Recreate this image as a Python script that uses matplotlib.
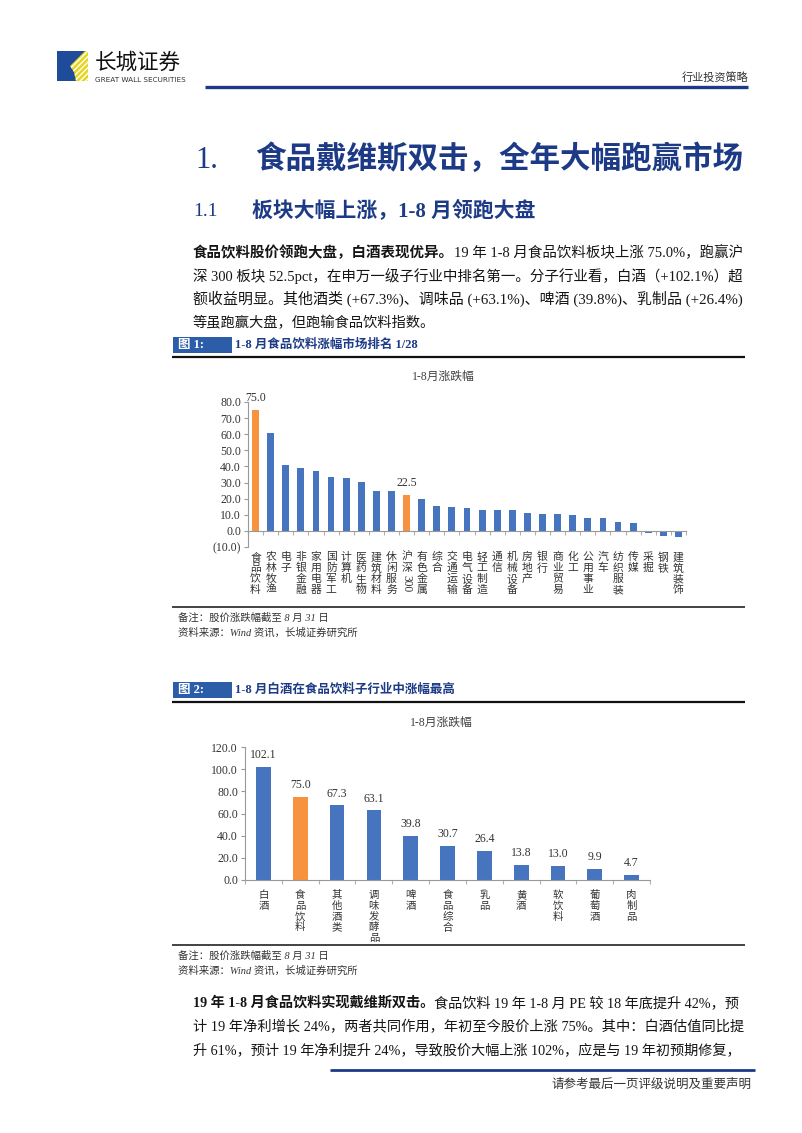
import matplotlib
matplotlib.use('Agg')
import matplotlib.pyplot as plt
from matplotlib.patches import Rectangle, Polygon
from matplotlib.transforms import blended_transform_factory
import numpy as np

plt.rcParams['font.family'] = ['Liberation Serif', 'Noto Sans CJK SC', 'DejaVu Sans']

# ---------------- data ----------------
c1_categories = ['食品饮料', '农林牧渔', '电子', '非银金融', '家用电器', '国防军工', '计算机',
                 '医药生物', '建筑材料', '休闲服务', '沪深300', '有色金属', '综合', '交通运输',
                 '电气设备', '轻工制造', '通信', '机械设备', '房地产', '银行', '商业贸易', '化工',
                 '公用事业', '汽车', '纺织服装', '传媒', '采掘', '钢铁', '建筑装饰']
c1_values = [75.0, 60.6, 40.6, 39.2, 36.9, 33.2, 32.6, 30.3, 25.0, 24.9, 22.5, 19.8, 15.6, 14.9,
             13.9, 13.1, 12.9, 12.8, 11.2, 10.3, 10.3, 10.0, 8.1, 7.9, 5.6, 4.8, -1.4, -3.1, -3.7]
c1_highlight = ['食品饮料', '沪深300']
c1_value_labels = {'食品饮料': '75.0', '沪深300': '22.5'}
c1_yticks = [-10, 0, 10, 20, 30, 40, 50, 60, 70, 80]
c1_yticklabels = ['(10.0)', '0.0', '10.0', '20.0', '30.0', '40.0', '50.0', '60.0', '70.0', '80.0']

c2_categories = ['白酒', '食品饮料', '其他酒类', '调味发酵品', '啤酒', '食品综合', '乳品',
                 '黄酒', '软饮料', '葡萄酒', '肉制品']
c2_values = [102.1, 75.0, 67.3, 63.1, 39.8, 30.7, 26.4, 13.8, 13.0, 9.9, 4.7]
c2_highlight = ['食品饮料']
c2_yticks = [0, 20, 40, 60, 80, 100, 120]
c2_yticklabels = ['0.0', '20.0', '40.0', '60.0', '80.0', '100.0', '120.0']

# ---------------- styles ----------------
BLUE = '#4674BF'
ORANGE = '#F7923F'
NAVY = '#1C3A86'
W, H = 802, 1133

fig = plt.figure(figsize=(W / 100, H / 100), dpi=100)
fig.patch.set_facecolor('white')
page = fig.add_axes([0, 0, 1, 1])
page.set_xlim(0, W)
page.set_ylim(H, 0)
page.axis('off')


def rect(l, t, r, b):
    return [l / W, 1 - b / H, (r - l) / W, (b - t) / H]


def hline(x0, x1, y, lw, color):
    page.plot([x0, x1], [y, y], lw=lw, color=color, solid_capstyle='butt')


justify = []


def rich_line(x, y, parts, fontsize, color='#151515', right=None):
    prev = None
    objs = []
    for text, bold in parts:
        kw = dict(fontsize=fontsize, fontweight='bold' if bold else 'normal', color=color,
                  va='bottom', ha='left')
        if prev is None:
            prev = page.text(x, y, text, **kw)
        else:
            prev = page.annotate(text, xy=(1, 0), xycoords=prev, **kw)
        objs.append(prev)
    if right is not None:
        justify.append((objs, x, right))
    return objs


# ---------------- page header ----------------
page.add_patch(Rectangle((57, 51), 31, 30, facecolor='#1E4C9A', edgecolor='none'))
page.add_patch(Polygon([(88, 51), (88, 81), (76, 81), (74, 72), (70, 66), (78, 58), (85, 51)],
                       closed=True, facecolor='#E6D41E', edgecolor='white', hatch='//////', lw=0))
page.text(95, 63, '长城证券', fontsize=15.5, family=['Noto Sans CJK SC'], color='#111',
          va='center', ha='left')
page.text(95, 80, 'GREAT WALL SECURITIES', fontsize=5.2, family=['DejaVu Sans'], color='#333',
          va='center', ha='left')
page.text(748, 77, '行业投资策略', fontsize=8, color='#333', va='center', ha='right',
          family=['Noto Sans CJK SC'])
hline(205, 748, 87, 2.4, NAVY)

# ---------------- titles ----------------
page.text(195, 160, '1.', fontsize=22, color=NAVY, va='center', ha='left')
page.text(255, 160, '食品戴维斯双击，全年大幅跑赢市场', fontsize=22, color=NAVY, va='center',
          ha='left', fontweight='bold')
page.text(193, 212, '1.1', fontsize=14, color=NAVY, va='center', ha='left')
page.text(252, 212, '板块大幅上涨，1-8 月领跑大盘', fontsize=15, color=NAVY, va='center',
          ha='left', fontweight='bold')

# ---------------- paragraph 1 ----------------
FS = 10.3
RIGHT = 740
rich_line(193, 260, [('食品饮料股价领跑大盘，白酒表现优异。', True),
                     ('19 年 1-8 月食品饮料板块上涨 75.0%，跑赢沪', False)], FS, right=RIGHT)
rich_line(193, 284, [('深 300 板块 52.5pct，在申万一级子行业中排名第一。分子行业看，白酒（+102.1%）超', False)], FS, right=RIGHT)
rich_line(193, 307, [('额收益明显。其他酒类 (+67.3%)、调味品 (+63.1%)、啤酒 (39.8%)、乳制品 (+26.4%)', False)], FS, right=RIGHT)
rich_line(193, 330, [('等虽跑赢大盘，但跑输食品饮料指数。', False)], FS)


def fig_header(y, num, text):
    page.add_patch(Rectangle((173, y - 8), 59, 16, facecolor='#2C5DA8', edgecolor='none'))
    page.text(178, y, '图 %d:' % num, fontsize=9, color='white', fontweight='bold',
              va='center', ha='left')
    page.text(235, y, text, fontsize=9, color=NAVY, fontweight='bold', va='center', ha='left')
    hline(172, 745, y + 12, 1.6, '#111')


def footnotes(y):
    hline(172, 745, y, 1.2, '#222')
    page.text(178, y + 11, '备注：股价涨跌幅截至 8 月 31 日', fontsize=7.5, color='#333',
              style='italic', va='center', ha='left')
    page.text(178, y + 26, '资料来源：Wind 资讯，长城证券研究所', fontsize=7.5, color='#333',
              style='italic', va='center', ha='left')


def draw_chart(ax, cats, vals, highlight, yticks, yticklabels, width, label_map,
               label_top, pitch, label_offset, cat_fs):
    x = np.arange(len(cats))
    colors = [ORANGE if c in highlight else BLUE for c in cats]
    ax.bar(x, vals, width=width, color=colors, zorder=2)
    ax.set_xlim(-0.5, len(cats) - 0.5)
    ax.set_ylim(yticks[0], yticks[-1])
    ax.set_yticks(yticks)
    ax.set_yticklabels(yticklabels, fontsize=8.5, color='#333')
    ax.set_xticks(np.arange(len(cats) + 1) - 0.5)
    ax.tick_params(axis='x', length=3, color='#B0B0B0', labelbottom=False, width=0.8)
    ax.tick_params(axis='y', length=3, color='#999999', pad=2, width=0.8)
    for s in ['top', 'right']:
        ax.spines[s].set_visible(False)
    ax.spines['bottom'].set_position(('data', 0))
    ax.spines['bottom'].set_color('#999999')
    ax.spines['left'].set_color('#999999')
    ax.patch.set_alpha(0)
    for i, c in enumerate(cats):
        if c in label_map:
            ax.annotate(label_map[c], (i, vals[i]), xytext=(0, label_offset),
                        textcoords='offset points', ha='center', va='bottom', fontsize=8.5,
                        color='#333', annotation_clip=False)
    trans = blended_transform_factory(ax.transData, page.transData)
    for i, c in enumerate(cats):
        chars = list(c)
        if c.endswith('300'):
            chars = list(c[:-3])
        for k, ch in enumerate(chars):
            ax.text(i, label_top + k * pitch, ch, transform=trans, ha='center', va='top',
                    fontsize=cat_fs, color='#333', family=['Noto Sans CJK SC'], clip_on=False)
        if c.endswith('300'):
            ax.text(i, label_top + len(chars) * pitch + 1, '300', transform=trans,
                    ha='center', va='top', rotation=-90, fontsize=cat_fs + 0.5, color='#333',
                    clip_on=False)


# ---------------- chart 1 ----------------
fig_header(345, 1, '1-8 月食品饮料涨幅市场排名 1/28')
page.text(443, 377, '1-8月涨跌幅', fontsize=8.5, color='#404040', va='center', ha='center')
ax1 = fig.add_axes(rect(248, 402, 686, 547))
draw_chart(ax1, c1_categories, c1_values, c1_highlight, c1_yticks, c1_yticklabels, 0.45,
           c1_value_labels, 552, 11, 4, 7.8)
footnotes(607)

# ---------------- chart 2 ----------------
fig_header(690, 2, '1-8 月白酒在食品饮料子行业中涨幅最高')
page.text(441, 723, '1-8月涨跌幅', fontsize=8.5, color='#404040', va='center', ha='center')
ax2 = fig.add_axes(rect(245, 747, 650, 880))
c2_labels = {c: '%.1f' % v for c, v in zip(c2_categories, c2_values)}
draw_chart(ax2, c2_categories, c2_values, c2_highlight, c2_yticks, c2_yticklabels, 0.4,
           c2_labels, 890, 10.8, 4, 7.5)
footnotes(945)

# ---------------- paragraph 2 ----------------
rich_line(193, 1010, [('19 年 1-8 月食品饮料实现戴维斯双击。', True),
                      ('食品饮料 19 年 1-8 月 PE 较 18 年底提升 42%，预', False)], FS, right=RIGHT)
rich_line(193, 1034, [('计 19 年净利增长 24%，两者共同作用，年初至今股价上涨 75%。其中：白酒估值同比提', False)], FS, right=RIGHT)
rich_line(193, 1058, [('升 61%，预计 19 年净利提升 24%，导致股价大幅上涨 102%，应是与 19 年初预期修复，', False)], FS, right=RIGHT)

# ---------------- footer ----------------
hline(330, 755, 1070, 2.0, NAVY)
page.text(752, 1084, '请参考最后一页评级说明及重要声明', fontsize=9, color='#333', va='center',
          ha='right', family=['Noto Sans CJK SC'])

# justify body lines by fine-tuning their font size
fig.canvas.draw()
renderer = fig.canvas.get_renderer()
for objs, x0, x1 in justify:
    e0 = objs[0].get_window_extent(renderer).x0
    e1 = objs[-1].get_window_extent(renderer).x1
    target = (x1 - x0) / W * fig.bbox.width
    ratio = target / max(e1 - e0, 1)
    ratio = min(max(ratio, 0.93), 1.07)
    for t in objs:
        t.set_fontsize(t.get_fontsize() * ratio)

fig.savefig('out.png', dpi=100, facecolor='white')
